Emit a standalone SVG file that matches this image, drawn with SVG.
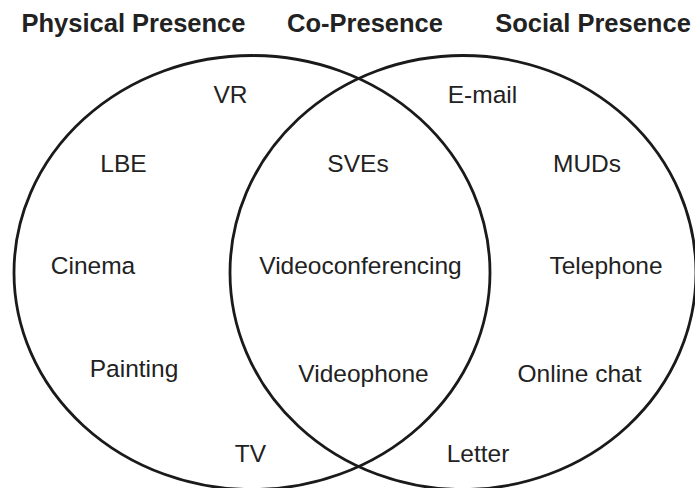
<svg xmlns="http://www.w3.org/2000/svg" width="695" height="488" viewBox="0 0 695 488">
<style>
.t{font-family:"Liberation Sans",Arial,sans-serif;font-size:24.5px;fill:#222;text-anchor:middle}
.h{font-family:"Liberation Sans",Arial,sans-serif;font-size:25.5px;font-weight:bold;fill:#222;text-anchor:middle}
.c{fill:none;stroke:#1a1a1a;stroke-width:2.8}
</style>
<rect width="695" height="488" fill="#fff"/>
<g id="titles">
<text class="h" x="133.5" y="32">Physical Presence</text>
<text class="h" x="365" y="32">Co-Presence</text>
<text class="h" x="593" y="32">Social Presence</text>
</g>
<g id="connectors">
<ellipse id="physical" class="c" cx="252" cy="272.5" rx="238" ry="217"/>
<ellipse id="social" class="c" cx="463" cy="272.5" rx="233" ry="217"/>
</g>
<g id="n-vr"><text class="t" x="230.5" y="103">VR</text></g>
<g id="n-email"><text class="t" x="482.5" y="103">E-mail</text></g>
<g id="n-lbe"><text class="t" x="123.5" y="172">LBE</text></g>
<g id="n-sves"><text class="t" x="358" y="172">SVEs</text></g>
<g id="n-muds"><text class="t" x="587" y="172">MUDs</text></g>
<g id="n-cinema"><text class="t" x="93" y="274">Cinema</text></g>
<g id="n-video"><text class="t" x="360.5" y="274">Videoconferencing</text></g>
<g id="n-tel"><text class="t" x="606" y="274">Telephone</text></g>
<g id="n-painting"><text class="t" x="134" y="377">Painting</text></g>
<g id="n-videophone"><text class="t" x="363.5" y="382">Videophone</text></g>
<g id="n-chat"><text class="t" x="579.5" y="382">Online chat</text></g>
<g id="n-tv"><text class="t" x="250.5" y="462">TV</text></g>
<g id="n-letter"><text class="t" x="478" y="462">Letter</text></g>
</svg>
